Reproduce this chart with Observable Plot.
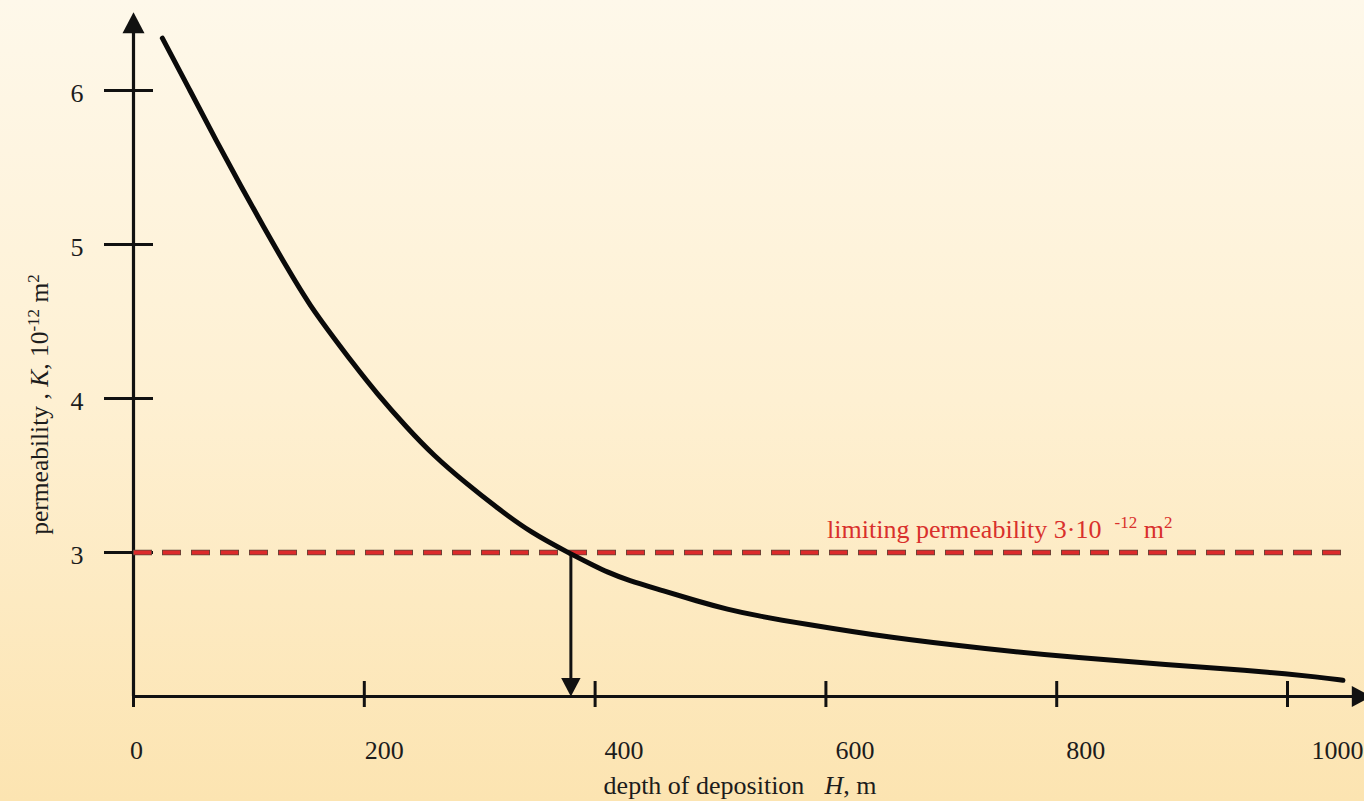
<!DOCTYPE html>
<html><head><meta charset="utf-8">
<script src="https://cdn.jsdelivr.net/npm/d3@7"></script>
<script src="https://cdn.jsdelivr.net/npm/@observablehq/plot@0.6"></script>
<style>
html,body{margin:0;padding:0;}
body{width:1364px;height:801px;overflow:hidden;background:linear-gradient(to bottom,#fef8ea 0%,#fef0d2 50%,#fce4b1 100%);}
#chart svg{display:block;}
</style></head><body><div id="chart"></div>
<script>
// depth of deposition H, m
const depth = [25, 49, 72, 93, 113, 133, 153, 176, 188, 211, 237, 260, 288, 315, 344, 379, 399, 410, 428, 460, 488, 515, 540, 578, 657, 738, 819, 900, 947, 980, 1029, 1048];
// permeability K, 10^-12 m^2
const permeability = [6.34, 6.00, 5.67, 5.38, 5.11, 4.85, 4.60, 4.37, 4.25, 4.03, 3.81, 3.63, 3.45, 3.29, 3.13, 2.99, 2.915, 2.875, 2.82, 2.75, 2.685, 2.63, 2.59, 2.54, 2.445, 2.375, 2.315, 2.27, 2.245, 2.225, 2.19, 2.17];
const xTicks = [0, 200, 400, 600, 800, 1000];
const yTicks = [3, 4, 5, 6];
const limitK = 3;            // limiting permeability
const crossingDepth = 379;   // depth where the curve reaches the limit
const limitEnd = 1050;
const limitLabelAt = 601;
const xAxisEnd = 1073;
const yAxisEnd = 6.508;
const yBase = 2.065;
const limitLabel = "limiting permeability 3·10";
const yLabel = "permeability";
const xLabel = "depth of deposition";

const curveData = depth.map((d, i) => ({depth: d, K: permeability[i]}));

function tri(dir) {
  return {draw(ctx, size) {
    const r = Math.sqrt(size / Math.PI), h = r * 1.9;
    if (dir === "up") { ctx.moveTo(0, 0); ctx.lineTo(-r, h); ctx.lineTo(r, h); }
    else if (dir === "down") { ctx.moveTo(0, 0); ctx.lineTo(-r, -h); ctx.lineTo(r, -h); }
    else { ctx.moveTo(0, 0); ctx.lineTo(-h, -r); ctx.lineTo(-h, r); }
    ctx.closePath();
  }};
}

const ink = "#111";
const fmt = d => String(d);

const chart = Plot.plot({
  width: 1364, height: 801,
  marginLeft: 133, marginRight: 0, marginTop: 0, marginBottom: 105,
  x: {domain: [0, 1066.7]},
  y: {domain: [yBase, 6.5844]},
  style: {background: "transparent", fontFamily: "'Liberation Serif','Times New Roman',serif", fontSize: "26px", color: "#1c1c1c", overflow: "visible"},
  marks: [
    // tick marks
    Plot.axisY(yTicks, {tickSize: 49, dx: 20, strokeWidth: 3, stroke: ink, fill: "none", label: null}),
    Plot.axisX(xTicks, {tickSize: 26, dy: -15, strokeWidth: 3, stroke: ink, fill: "none", label: null}),
    // tick labels
    Plot.axisY(yTicks, {tickSize: 0, tickPadding: 50, dy: 3, label: null, tickFormat: fmt, fontSize: 26}),
    Plot.axisX([0], {tickSize: 0, tickPadding: 44, dx: 3, label: null, tickFormat: fmt, fontSize: 26}),
    Plot.axisX([200], {tickSize: 0, tickPadding: 44, dx: 20, label: null, tickFormat: fmt, fontSize: 26}),
    Plot.axisX([400, 600, 800], {tickSize: 0, tickPadding: 44, dx: 29, label: null, tickFormat: fmt, fontSize: 26}),
    Plot.axisX([1000], {tickSize: 0, tickPadding: 44, dx: 50, label: null, tickFormat: fmt, fontSize: 26}),
    // axis lines
    Plot.ruleX([0], {y1: yBase, y2: yAxisEnd - 0.05, stroke: ink, strokeWidth: 3.2}),
    Plot.ruleY([yBase], {x1: 0, x2: xAxisEnd - 10, stroke: ink, strokeWidth: 3.2}),
    // limiting permeability dashed line
    Plot.ruleY([limitK], {x1: 0, x2: limitEnd, stroke: "#5a4438", strokeWidth: 5.6, strokeDasharray: "19,10"}),
    Plot.ruleY([limitK], {x1: 0, x2: limitEnd, stroke: "#dc2a2b", strokeWidth: 4, strokeDasharray: "17.4,11.6", strokeDashoffset: -0.8}),
    // crossing arrow
    Plot.ruleX([crossingDepth], {y1: limitK, y2: yBase + 0.05, stroke: ink, strokeWidth: 3}),
    // the curve
    Plot.line(curveData, {x: "depth", y: "K", stroke: "#0a0a0a", strokeWidth: 5, curve: "basis"}),
    // arrowheads
    Plot.dot([{x: 0, y: yAxisEnd}], {x: "x", y: "y", symbol: tri("up"), r: 11, fill: ink}),
    Plot.dot([{x: xAxisEnd, y: yBase}], {x: "x", y: "y", symbol: tri("right"), r: 10.5, fill: ink}),
    Plot.dot([{x: crossingDepth, y: yBase}], {x: "x", y: "y", symbol: tri("down"), r: 9.7, fill: ink}),
    // labels
    Plot.text([{depth: limitLabelAt, K: limitK, t: limitLabel}], {x: "depth", y: "K", text: "t", textAnchor: "start", lineAnchor: "bottom", dy: -15, fill: "#d9302c", fontSize: 26}),
    Plot.text([yLabel], {frameAnchor: "left", rotate: -90, textAnchor: "middle", lineAnchor: "bottom", dx: -86, dy: 56, fontSize: 25.5, fill: "#1c1c1c"}),
    Plot.text([xLabel], {frameAnchor: "bottom", textAnchor: "middle", lineAnchor: "bottom", dx: -9, dy: 97, fontSize: 26, fill: "#1c1c1c"})
  ]
});

document.getElementById("chart").appendChild(chart);

function rich(content, parts) {
  d3.select(chart).selectAll("text").filter(function() { return this.textContent === content; }).each(function() {
    const t = d3.select(this);
    t.text(null);
    let shift = 0;
    for (const p of parts) {
      const s = t.append("tspan").text(p.t);
      const target = p.sup ? -p.sup : 0;
      if (target !== shift) { s.attr("dy", target - shift); shift = target; }
      if (p.dx) s.attr("dx", p.dx);
      if (p.size) s.attr("font-size", p.size);
      if (p.italic) s.attr("font-style", "italic");
    }
  });
}

rich(limitLabel, [
  {t: "limiting permeability 3·10"},
  {t: "-12", sup: 10, size: 17, dx: 13},
  {t: " m"},
  {t: "2", sup: 10, size: 17}
]);
rich(yLabel, [
  {t: "permeability , "},
  {t: "K", italic: true},
  {t: ", 10"},
  {t: "-12", sup: 9, size: 17},
  {t: " m"},
  {t: "2", sup: 9, size: 17}
]);
rich(xLabel, [
  {t: "depth of deposition"},
  {t: "H", italic: true, dx: 20},
  {t: ", m"}
]);
</script>
</body></html>
